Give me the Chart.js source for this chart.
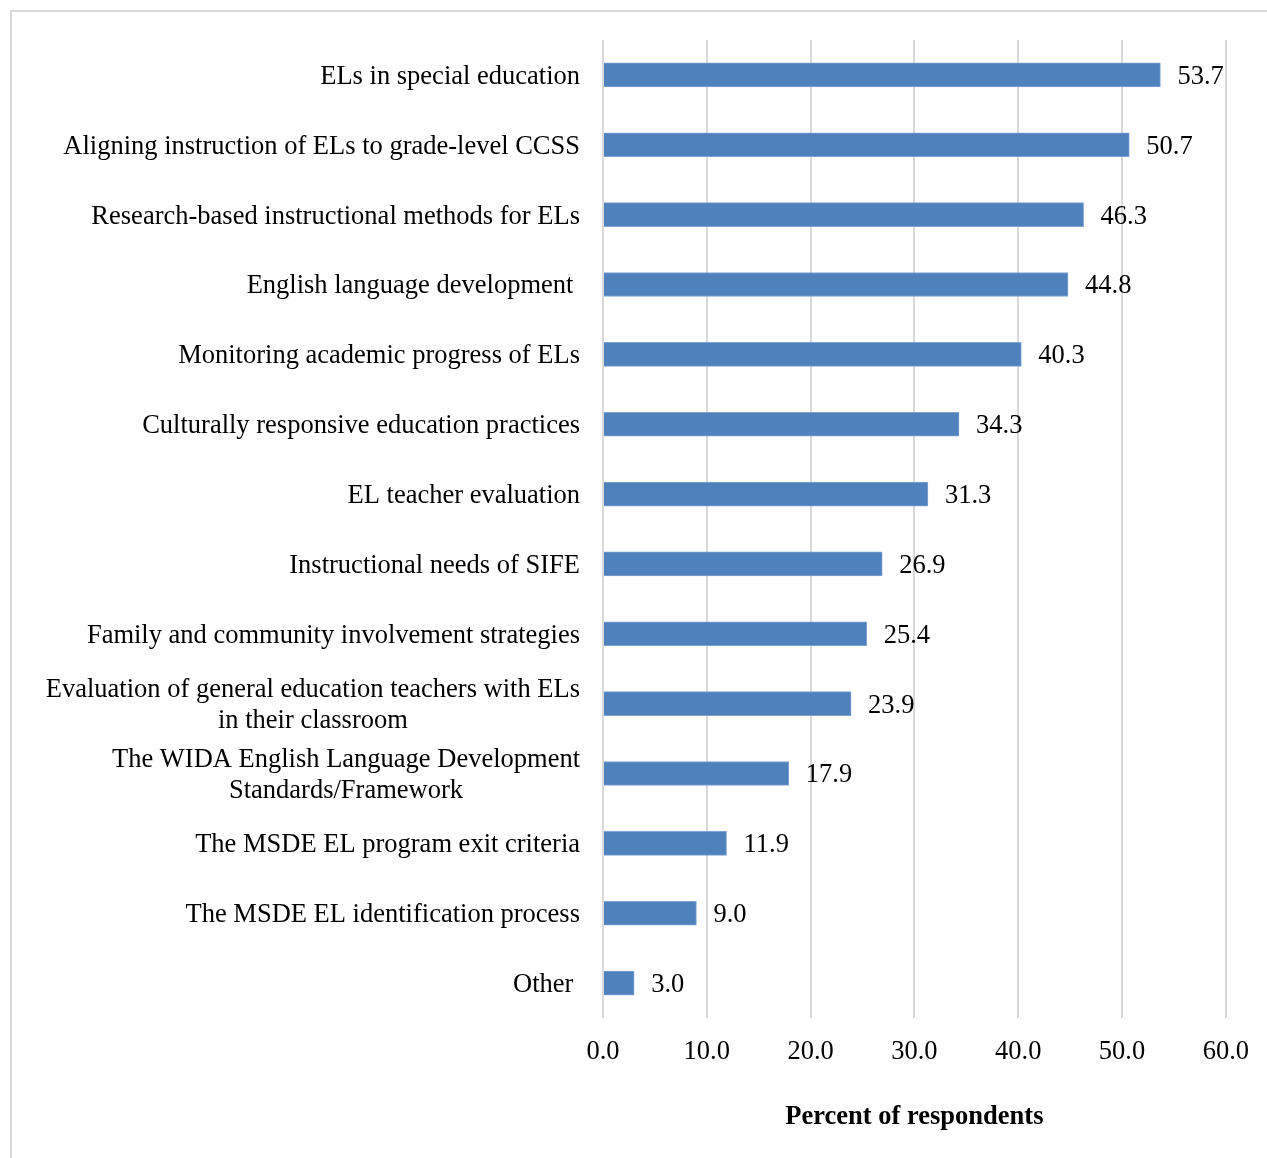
<!DOCTYPE html>
<html>
<head>
<meta charset="utf-8">
<title>Percent of respondents</title>
<script src="https://cdn.jsdelivr.net/npm/chart.js@4"></script>
<style>
    html, body { margin: 0; padding: 0; background: #fff; overflow: hidden; }
    #frame {
        position: absolute; left: 10px; top: 10px;
        width: 1300px; height: 1200px;
        border: 2px solid #d9d9d9;
    }
    #chart { position: absolute; left: 0; top: 0; }
</style>
</head>
<body>
<div id="frame"></div>
<canvas id="chart" width="1267" height="1158"></canvas>
<script>
// Data
const categories = [
    'ELs in special education',
    'Aligning instruction of ELs to grade-level CCSS',
    'Research-based instructional methods for ELs',
    'English language development ',
    'Monitoring academic progress of ELs',
    'Culturally responsive education practices',
    'EL teacher evaluation',
    'Instructional needs of SIFE',
    'Family and community involvement strategies',
    ['Evaluation of general education teachers with ELs', 'in their classroom'],
    ['The WIDA English Language Development', 'Standards/Framework'],
    'The MSDE EL program exit criteria',
    'The MSDE EL identification process',
    'Other '
];
const percentValues = [53.7, 50.7, 46.3, 44.8, 40.3, 34.3, 31.3, 26.9, 25.4, 23.9, 17.9, 11.9, 9.0, 3.0];
const xTickValues = [0, 10, 20, 30, 40, 50, 60];
const xAxisTitle = 'Percent of respondents';

const FONT = '"Liberation Serif", "Times New Roman", serif';
const SIZE = 26.5;

document.addEventListener('DOMContentLoaded', function() {
    const ctx = document.getElementById('chart').getContext('2d');

    // Category labels: right-aligned block, lines centred inside the block
    const categoryLabels = {
        id: 'categoryLabels',
        afterDraw(chart) {
            const c = chart.ctx;
            const yScale = chart.scales.y;
            const rightEdge = chart.chartArea.left - 23;
            const lineGap = 31;
            c.save();
            c.font = SIZE + 'px ' + FONT;
            c.fillStyle = '#000';
            c.textBaseline = 'middle';
            categories.forEach((label, i) => {
                const lines = Array.isArray(label) ? label : [label];
                const yc = yScale.getPixelForValue(i) + 2;
                if (lines.length === 1) {
                    c.textAlign = 'right';
                    c.fillText(lines[0], rightEdge, yc);
                } else {
                    const w = Math.max(...lines.map(l => c.measureText(l).width));
                    const cx = rightEdge - w / 2;
                    c.textAlign = 'center';
                    lines.forEach((l, k) => {
                        c.fillText(l, cx, yc + (k - (lines.length - 1) / 2) * lineGap);
                    });
                }
            });
            c.restore();
        }
    };

    // Value labels at the end of each bar
    const valueLabels = {
        id: 'valueLabels',
        afterDatasetsDraw(chart) {
            const c = chart.ctx;
            const meta = chart.getDatasetMeta(0);
            c.save();
            c.font = SIZE + 'px ' + FONT;
            c.fillStyle = '#000';
            c.textAlign = 'left';
            c.textBaseline = 'middle';
            meta.data.forEach((bar, i) => {
                c.fillText(percentValues[i].toFixed(1), bar.x + 17, bar.y + 2);
            });
            c.restore();
        }
    };

    new Chart(ctx, {
        type: 'bar',
        data: {
            labels: categories,
            datasets: [{
                data: percentValues,
                backgroundColor: '#4f81bd',
                borderColor: '#7fa3d3',
                borderWidth: 1,
                barThickness: 24
            }]
        },
        options: {
            indexAxis: 'y',
            responsive: false,
            animation: false,
            devicePixelRatio: 1,
            layout: { padding: { top: 40, right: 41, bottom: 0, left: 0 } },
            plugins: {
                legend: { display: false },
                tooltip: { enabled: false }
            },
            scales: {
                x: {
                    min: 0,
                    max: 60,
                    afterBuildTicks(scale) {
                        scale.ticks = xTickValues.map(v => ({ value: v }));
                    },
                    afterFit(scale) { scale.height = 140; },
                    grid: { color: '#d9d9d9', lineWidth: 2, drawTicks: false },
                    border: { display: false },
                    ticks: {
                        padding: 18,
                        color: '#000',
                        font: { family: FONT, size: SIZE },
                        callback: v => Number(v).toFixed(1)
                    },
                    title: {
                        display: true,
                        text: xAxisTitle,
                        color: '#000',
                        font: { family: FONT, size: SIZE, weight: 'bold' },
                        padding: { top: 0, bottom: 25 }
                    }
                },
                y: {
                    afterFit(scale) { scale.width = 603; },
                    grid: { display: false },
                    border: { display: false },
                    ticks: { display: false }
                }
            }
        },
        plugins: [categoryLabels, valueLabels]
    });
});
</script>
</body>
</html>
